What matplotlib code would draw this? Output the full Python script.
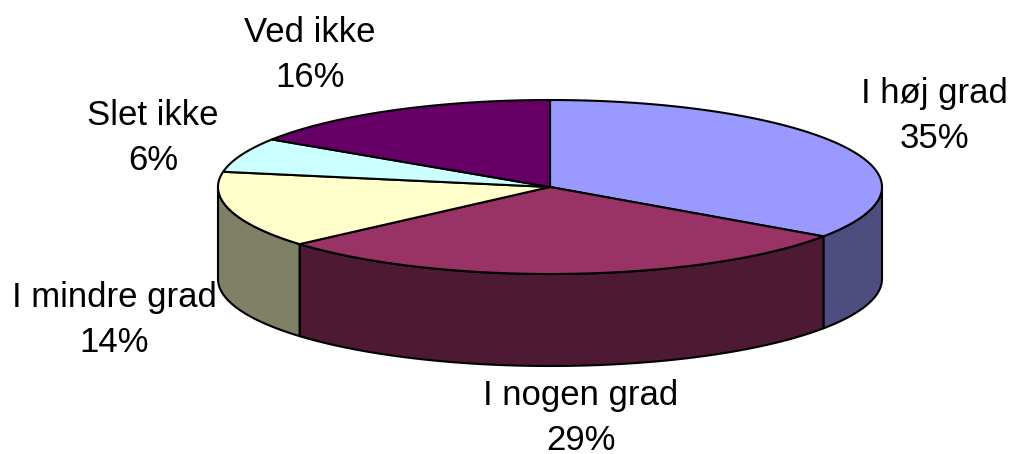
import numpy as np
import matplotlib
matplotlib.use("Agg")
import matplotlib.pyplot as plt

categories = ["I høj grad", "I nogen grad", "I mindre grad", "Slet ikke", "Ved ikke"]
values = [34.6, 29.0, 14.2, 6.4, 15.8]
top_colors = ["#9999FF", "#993366", "#FFFFCC", "#CCFFFF", "#660066"]
side_colors = ["#4D4D80", "#4D1933", "#808066", "#668080", "#330033"]
label_xy = [(934, 116), (581, 418), (114, 320), (153, 138), (310, 55)]

CX, CY, RX, RY, DEPTH = 550, 187, 332, 87, 92

plt.rcParams["font.family"] = ["Liberation Sans", "DejaVu Sans"]
fig = plt.figure(figsize=(10.11, 4.54), dpi=100)
ax = fig.add_axes([0, 0, 1, 1])
ax.set_xlim(0, 1011)
ax.set_ylim(454, 0)
ax.axis("off")

def px(t):
    return CX + RX * np.sin(t)

def py(t):
    return CY - RY * np.cos(t)

edges = np.cumsum([0] + values) / sum(values) * 2 * np.pi

# rim: only the front half (pi/2 .. 3pi/2) is visible
for a, b, c in zip(edges[:-1], edges[1:], side_colors):
    lo, hi = max(a, np.pi / 2), min(b, 3 * np.pi / 2)
    if lo >= hi:
        continue
    t = np.linspace(lo, hi, 120)
    xs = np.r_[px(t), px(t[::-1])]
    ys = np.r_[py(t), py(t[::-1]) + DEPTH]
    ax.fill(xs, ys, facecolor=c, edgecolor="black", linewidth=1.5, joinstyle="round")

# top face
for a, b, c in zip(edges[:-1], edges[1:], top_colors):
    t = np.linspace(a, b, 200)
    xs = np.r_[CX, px(t)]
    ys = np.r_[CY, py(t)]
    ax.fill(xs, ys, facecolor=c, edgecolor="black", linewidth=1.5, joinstyle="round")

for name, v, (x, y) in zip(categories, values, label_xy):
    ax.text(x, y, f"{name}\n{round(v)}%", ha="center", va="center", fontsize=25,
            color="black", linespacing=1.44)

fig.savefig("out.png", dpi=100)
